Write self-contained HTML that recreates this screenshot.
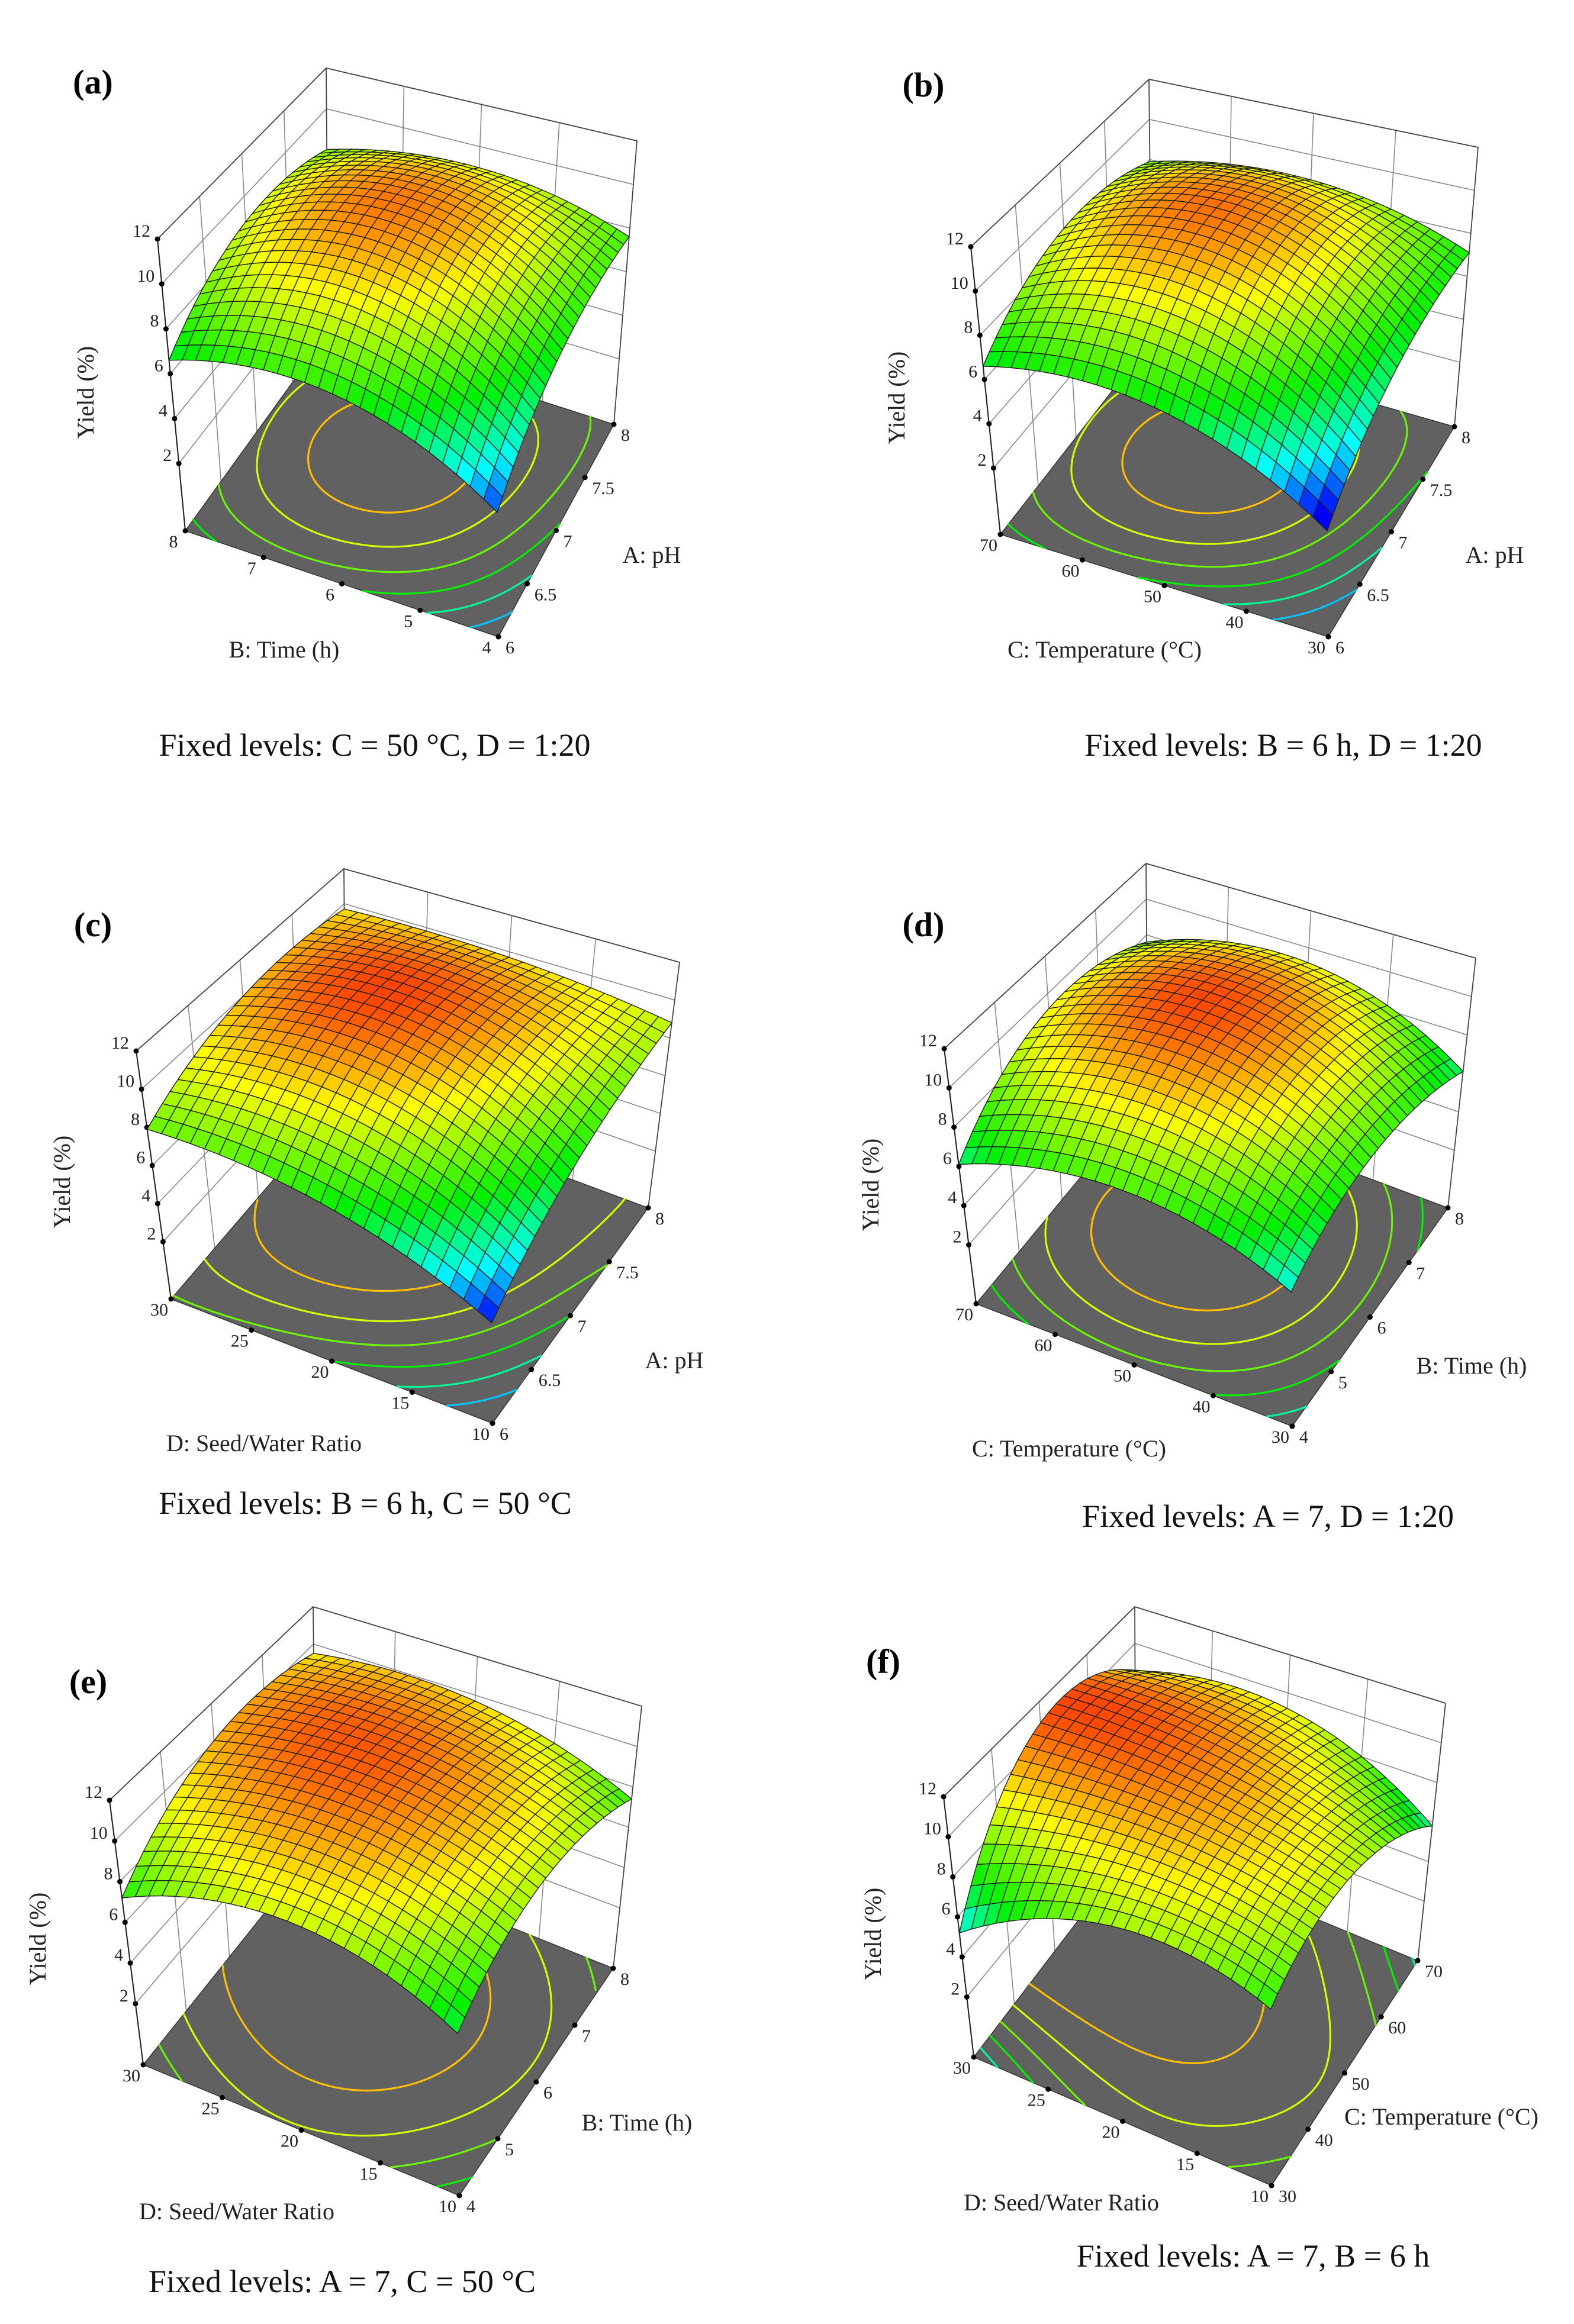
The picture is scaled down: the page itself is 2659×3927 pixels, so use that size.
<!DOCTYPE html>
<html><head><meta charset="utf-8"><title>Response surface plots</title>
<style>
html,body{margin:0;padding:0;background:#fff;}
svg{display:block;font-family:"Liberation Serif",serif;}
</style></head>
<body>
<svg id="chart" xmlns="http://www.w3.org/2000/svg" width="2659" height="3927" viewBox="0 0 2659 3927">
<rect x="0" y="0" width="2659" height="3927" fill="#fff"/>
</svg>
<script>
// ---- data (tick values and yield grids) ----
const zTicks = [2, 4, 6, 8, 10, 12];
const contourLevels = [5, 6, 7, 8, 9, 10];
const pHTicks = [6, 6.5, 7, 7.5, 8];
const timeTicks = [4, 5, 6, 7, 8];
const tempTicks = [30, 40, 50, 60, 70];
const ratioTicks = [10, 15, 20, 25, 30];
// yield grids: rows = first (left-front) axis at low/mid/high, cols = second (front-right) axis at low/mid/high
const yieldA = [[4.2, 6.9, 7.6], [7.2, 10.5, 9.0], [6.6, 8.8, 8.0]];
const yieldB = [[3.5, 6.3, 7.1], [6.8, 10.5, 8.8], [6.6, 8.9, 7.9]];
const yieldC = [[3.9, 7.0, 8.8], [7.0, 10.7, 9.7], [7.9, 10.0, 9.7]];
const yieldD = [[5.4, 7.4, 6.1], [7.6, 10.9, 9.2], [6.1, 9.2, 7.6]];
const yieldE = [[6.4, 8.7, 7.4], [8.9, 10.8, 9.7], [7.2, 10.1, 9.5]];
const yieldF = [[7.2, 8.7, 5.8], [8.4, 10.5, 9.2], [5.2, 10.9, 8.5]];
const panelTags = ["(a)", "(b)", "(c)", "(d)", "(e)", "(f)"];
const uTitles = ["B: Time (h)", "C: Temperature (\u00B0C)", "D: Seed/Water Ratio", "C: Temperature (\u00B0C)", "D: Seed/Water Ratio", "D: Seed/Water Ratio"];
const vTitles = ["A: pH", "A: pH", "A: pH", "B: Time (h)", "B: Time (h)", "C: Temperature (\u00B0C)"];
const fixedTexts = ["Fixed levels: C = 50 \u00B0C, D = 1:20", "Fixed levels: B = 6 h, D = 1:20", "Fixed levels: B = 6 h, C = 50 \u00B0C", "Fixed levels: A = 7, D = 1:20", "Fixed levels: A = 7, C = 50 \u00B0C", "Fixed levels: A = 7, B = 6 h"];
const uTickSets = [timeTicks, tempTicks, ratioTicks, tempTicks, ratioTicks, ratioTicks];
const vTickSets = [pHTicks, pHTicks, pHTicks, timeTicks, timeTicks, tempTicks];
const yieldGrids = [yieldA, yieldB, yieldC, yieldD, yieldE, yieldF];

// ---- layout (pixel geometry, not data) ----
const layouts = [
 {L:[313,897],Lt:[266,404],F:[842,1076],R:[1037,717],Rt:[1076,238],Bt:[551,115],tag:[157,158],yl:[149,663],ul:[480,1111],vl:[1101,951],fx:[633,1277]},
 {L:[1690,903],Lt:[1640,417],F:[2244,1076],R:[2457,721],Rt:[2497,249],Bt:[1941,134],tag:[1560,163],yl:[1519,672],ul:[1866,1111],vl:[2525,951],fx:[2168,1277]},
 {L:[289,2195],Lt:[230,1776],F:[832,2405],R:[1095,2041],Rt:[1148,1626],Bt:[581,1468],tag:[157,1582],yl:[109,1997],ul:[446,2452],vl:[1139,2312],fx:[617,2558]},
 {L:[1649,2203],Lt:[1595,1772],F:[2183,2410],R:[2446,2041],Rt:[2493,1619],Bt:[1936,1459],tag:[1560,1582],yl:[1475,2002],ul:[1806,2461],vl:[2486,2321],fx:[2142,2580]},
 {L:[242,3489],Lt:[185,3042],F:[776,3710],R:[1036,3326],Rt:[1084,2883],Bt:[529,2715],tag:[149,2861],yl:[68,3276],ul:[400,3750],vl:[1076,3600],fx:[578,3873]},
 {L:[1645,3476],Lt:[1594,3036],F:[2148,3693],R:[2395,3313],Rt:[2442,2878],Bt:[1917,2715],tag:[1492,2827],yl:[1479,3268],ul:[1793,3735],vl:[2435,3590],fx:[2117,3830]}
];
const ZF = -1, ZT = 12;
const NS = "http://www.w3.org/2000/svg";
const svg = document.getElementById('chart');
function mk(tag, attrs, parent){const e=document.createElementNS(NS,tag);for(const k in attrs)e.setAttribute(k,attrs[k]);(parent||svg).appendChild(e);return e;}

const stops=[[4.0,[0,0,255]],[5.3,[0,255,255]],[7.0,[0,240,0]],[9.4,[255,255,0]],[10.5,[255,140,0]],[11.4,[255,30,0]]];
function cmap(z){
 if(z<=stops[0][0])return 'rgb(0,0,255)';
 for(let i=1;i<stops.length;i++){ if(z<=stops[i][0]){const a=stops[i-1],b=stops[i];const t=(z-a[0])/(b[0]-a[0]);
   const c=a[1].map((x,k)=>Math.round(x+(b[1][k]-x)*t));return 'rgb('+c.join(',')+')';}}
 return 'rgb(255,30,0)';
}
function Lq(x){return [2*(x-0.5)*(x-1), -4*x*(x-1), 2*x*(x-0.5)];}
function surf(g,u,v){const a=Lq(u),b=Lq(v);let s=0;for(let i=0;i<3;i++)for(let j=0;j<3;j++)s+=a[i]*b[j]*g[i][j];return s;}

function makeProj(lay){
 const vL=[lay.Lt[0]-lay.L[0],lay.Lt[1]-lay.L[1]], vR=[lay.Rt[0]-lay.R[0],lay.Rt[1]-lay.R[1]];
 const avg=[(vL[0]+vR[0])/2,(vL[1]+vR[1])/2];
 const vB=[avg[0]*0.92,avg[1]*0.92], vF=[avg[0]*1.08,avg[1]*1.08];
 const B=[lay.Bt[0]-vB[0],lay.Bt[1]-vB[1]];
 return function(u,v,z){
  const w=[(1-u)*(1-v),u*(1-v),(1-u)*v,u*v];
  const P=[w[0]*lay.F[0]+w[1]*lay.L[0]+w[2]*lay.R[0]+w[3]*B[0], w[0]*lay.F[1]+w[1]*lay.L[1]+w[2]*lay.R[1]+w[3]*B[1]];
  const V=[w[0]*vF[0]+w[1]*vL[0]+w[2]*vR[0]+w[3]*vB[0], w[0]*vF[1]+w[1]*vL[1]+w[2]*vR[1]+w[3]*vB[1]];
  const t=(z-ZF)/(ZT-ZF);
  return [P[0]+V[0]*t,P[1]+V[1]*t];
 };
}
function pt(p){return p[0].toFixed(1)+','+p[1].toFixed(1);}

for(let k=0;k<6;k++){
 const lay=layouts[k], grid=yieldGrids[k], uT=uTickSets[k], vT=vTickSets[k];
 const pr=makeProj(lay);
 const umin=uT[0],umax=uT[uT.length-1],vmin=vT[0],vmax=vT[vT.length-1];
 const uS=val=>(val-umin)/(umax-umin), vS=val=>(val-vmin)/(vmax-vmin);
 const g=mk('g',{});
 
 

 let wp='';
 for(const z of zTicks){ wp+='M'+pt(pr(1,0,z))+'L'+pt(pr(1,1,z))+'L'+pt(pr(0,1,z)); }
 for(const uv of uT.slice(1,-1)){ const u=uS(uv); wp+='M'+pt(pr(u,1,ZF))+'L'+pt(pr(u,1,ZT)); }
 for(const vv of vT.slice(1,-1)){ const v=vS(vv); wp+='M'+pt(pr(1,v,ZF))+'L'+pt(pr(1,v,ZT)); }
 const wall=mk('path',{d:wp,fill:'none',stroke:'#8a8a8a','stroke-width':1.6},g);
 
 
 const ep='M'+pt(pr(1,0,ZF))+'L'+pt(pr(1,0,ZT))+'L'+pt(pr(1,1,ZT))+'L'+pt(pr(0,1,ZT))+'L'+pt(pr(0,1,ZF))+'M'+pt(pr(1,1,ZF))+'L'+pt(pr(1,1,ZT));
 const edges=mk('path',{d:ep,fill:'none',stroke:'#444','stroke-width':1.8},g);
 
 
 const fl=mk('path',{d:'M'+pt(pr(0,0,ZF))+'L'+pt(pr(1,0,ZF))+'L'+pt(pr(1,1,ZF))+'L'+pt(pr(0,1,ZF))+'Z',fill:'#616161',stroke:'#333','stroke-width':1.5},g);
 
 
 const N=90;
 for(const lev of contourLevels){
  let d='';
  for(let i=0;i<N;i++)for(let j=0;j<N;j++){
   const u0=i/N,u1=(i+1)/N,v0=j/N,v1=(j+1)/N;
   const c=[[u0,v0],[u1,v0],[u1,v1],[u0,v1]];
   const val=c.map(q=>surf(grid,q[0],q[1]));
   const ps=[];
   for(let e=0;e<4;e++){const a=e,b=(e+1)%4;
    if((val[a]-lev)*(val[b]-lev)<0){const t=(lev-val[a])/(val[b]-val[a]);
     ps.push(pr(c[a][0]+(c[b][0]-c[a][0])*t,c[a][1]+(c[b][1]-c[a][1])*t,ZF));}}
   if(ps.length>=2)d+='M'+pt(ps[0])+'L'+pt(ps[1]);
   if(ps.length===4)d+='M'+pt(ps[2])+'L'+pt(ps[3]);
  }
  if(d){const cl=mk('path',{d:d,fill:'none',stroke:cmap(lev),'stroke-width':3.2,'stroke-linecap':'round'},g);
   
   }
 }
 const ax=mk('path',{d:'M'+pt(pr(1,0,ZF))+'L'+pt(pr(1,0,ZT)),stroke:'#222','stroke-width':2,fill:'none'},g);
 
 
 for(const z of zTicks){const p=pr(1,0,z);
  const dt=mk('circle',{cx:p[0],cy:p[1],r:4.5,fill:'#000'},g);
  
  
  const tx=mk('text',{x:p[0]-12,y:p[1]-4,'font-size':30,'text-anchor':'end',fill:'#222'},g);
  tx.textContent=z;
  
  }
 for(const uv of uT){const p=pr(uS(uv),0,ZF);
  const dt=mk('circle',{cx:p[0],cy:p[1],r:4.5,fill:'#000'},g);
  
  
  const tx=mk('text',{x:p[0]-20,y:p[1]+28,'font-size':30,'text-anchor':'middle',fill:'#222'},g);
  tx.textContent=uv;
  
  }
 for(const vv of vT){const p=pr(0,vS(vv),ZF);
  const dt=mk('circle',{cx:p[0],cy:p[1],r:4.5,fill:'#000'},g);
  
  
  const tx=mk('text',{x:p[0]+12,y:p[1]+28,'font-size':30,'text-anchor':'start',fill:'#222'},g);
  tx.textContent=vv;
  
  }
 const M=24, quads=[];
 for(let i=0;i<M;i++)for(let j=0;j<M;j++){
  const u0=i/M,u1=(i+1)/M,v0=j/M,v1=(j+1)/M;
  const zc=surf(grid,(u0+u1)/2,(v0+v1)/2);
  quads.push({d:(u0+u1+v0+v1)/2,path:'M'+pt(pr(u0,v0,surf(grid,u0,v0)))+'L'+pt(pr(u1,v0,surf(grid,u1,v0)))+'L'+pt(pr(u1,v1,surf(grid,u1,v1)))+'L'+pt(pr(u0,v1,surf(grid,u0,v1)))+'Z',fill:cmap(zc)});
 }
 quads.sort((a,b)=>b.d-a.d);
 const sg=mk('g',{stroke:'#1c1c1c','stroke-width':1.4,'stroke-linejoin':'round'},g);
 
 
 for(const q of quads){const c=mk('path',{d:q.path,fill:q.fill},sg);
  
  }
 const tg=mk('text',{x:lay.tag[0],y:lay.tag[1],'font-size':58,'font-weight':'bold','text-anchor':'middle',fill:'#000'},g);
 tg.textContent=panelTags[k];
 
 
 const yl=mk('text',{x:lay.yl[0],y:lay.yl[1],'font-size':40,'text-anchor':'middle','dominant-baseline':'middle',fill:'#222',transform:'rotate(-90 '+lay.yl[0]+' '+lay.yl[1]+')'},g);
 yl.textContent='Yield (%)';
 
 
 const ul=mk('text',{x:lay.ul[0],y:lay.ul[1],'font-size':40,'text-anchor':'middle',fill:'#222'},g);
 ul.textContent=uTitles[k];
 
 
 const vl=mk('text',{x:lay.vl[0],y:lay.vl[1],'font-size':40,'text-anchor':'middle',fill:'#222'},g);
 vl.textContent=vTitles[k];
 
 
 const fx=mk('text',{x:lay.fx[0],y:lay.fx[1],'font-size':54,'text-anchor':'middle',fill:'#111'},g);
 fx.textContent=fixedTexts[k];
 
 
}
</script>
</body></html>
